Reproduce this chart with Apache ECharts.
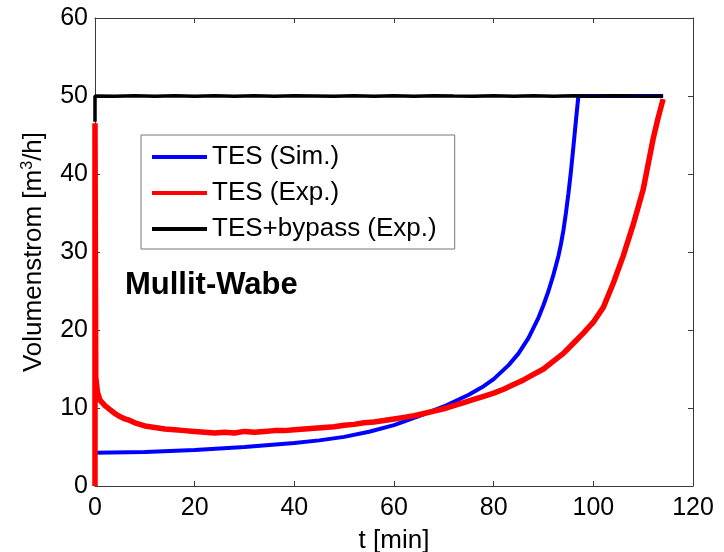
<!DOCTYPE html>
<html>
<head>
<meta charset="utf-8">
<script src="https://cdn.jsdelivr.net/npm/echarts@6/dist/echarts.min.js"></script>
<style>html,body{margin:0;padding:0;background:#fff}#c{width:724px;height:552px}</style>
</head>
<body>
<div id="c"></div>
<script>
// ---- data ----
const xTicks = [0, 20, 40, 60, 80, 100, 120];
const yTicks = [0, 10, 20, 30, 40, 50, 60];
const seriesNames = ['TES (Sim.)', 'TES (Exp.)', 'TES+bypass (Exp.)'];

const simT = [0, 10, 20, 30, 40, 45, 50, 55, 60, 65, 70, 75, 78, 80, 83, 85, 87, 89, 90, 91, 92, 93, 93.5, 94, 94.5, 95, 95.5, 96, 96.5, 97, 114];
const simV = [4.25, 4.35, 4.6, 5.0, 5.5, 5.85, 6.3, 6.95, 7.8, 8.95, 10.2, 11.7, 12.8, 13.7, 15.5, 17.0, 19.0, 21.6, 23.2, 25.0, 27.1, 29.5, 31.0, 32.8, 35.0, 37.5, 40.3, 43.5, 46.8, 50.0, 50.0];

const expT = [0, 0, 0.15, 0.5, 1, 2, 3, 4, 5, 6, 7, 8, 9, 10, 12, 14, 16, 18, 20, 22, 24, 26, 28, 30, 32, 34, 36, 38, 40, 42, 44, 46, 48, 50, 52, 54, 56, 58, 60, 62, 64, 66, 68, 70, 72, 74, 76, 78, 80, 82, 84, 86, 88, 90, 92, 94, 96, 98, 100, 102, 104, 106, 108, 110, 112, 113, 114];
const expV = [0, 46.5, 14, 12, 11, 10.3, 9.8, 9.3, 8.9, 8.6, 8.4, 8.1, 7.9, 7.7, 7.5, 7.3, 7.2, 7.1, 7.0, 6.9, 6.8, 6.9, 6.8, 7.0, 6.9, 7.0, 7.1, 7.1, 7.2, 7.3, 7.4, 7.5, 7.6, 7.8, 7.9, 8.1, 8.2, 8.4, 8.6, 8.8, 9.0, 9.3, 9.6, 9.9, 10.3, 10.7, 11.1, 11.5, 11.9, 12.4, 13.0, 13.6, 14.3, 15.0, 16.0, 17.0, 18.3, 19.6, 21.0, 22.9, 26.0, 29.5, 33.5, 38.0, 44.5, 47.2, 49.6];

const bypT = [0, 0, 4, 8, 12, 16, 20, 24, 28, 32, 36, 40, 44, 48, 52, 56, 60, 64, 68, 72, 76, 80, 84, 88, 92, 96, 100, 104, 108, 112, 114];
const bypV = [46.7, 50.0, 49.97, 50.03, 49.98, 50.02, 49.97, 50.03, 49.98, 50.02, 49.97, 50.03, 50.0, 49.97, 50.03, 49.98, 50.02, 49.97, 50.03, 50.0, 49.98, 50.02, 49.97, 50.03, 49.98, 50.02, 49.97, 50.03, 50.0, 49.98, 50.0];

const annotation = 'Mullit-Wabe';

const zip = (a, b) => a.map((v, i) => [v, b[i]]);
const FONT = "'Liberation Sans', Arial, sans-serif";
const axisCol = '#3a3a3a';

const chart = echarts.init(document.getElementById('c'), null, {renderer: 'canvas'});
const baseX = {
  type: 'value', min: 0, max: 120, interval: 20,
  axisLine: {show: true, onZero: false, lineStyle: {color: axisCol, width: 1}},
  axisTick: {show: true, inside: true, length: 5, lineStyle: {color: axisCol}},
  splitLine: {show: false}
};
const baseY = {
  type: 'value', min: 0, max: 60, interval: 10,
  axisLine: {show: true, onZero: false, lineStyle: {color: axisCol, width: 1}},
  axisTick: {show: true, inside: true, length: 5, lineStyle: {color: axisCol}},
  splitLine: {show: false}
};
chart.setOption({
  animation: false,
  backgroundColor: '#fff',
  grid: {left: 95, right: 31, top: 18, bottom: 66, containLabel: false, outerBoundsMode: 'none'},
  xAxis: [
    Object.assign({}, baseX, {
      position: 'bottom',
      axisLabel: {show: true, fontFamily: FONT, fontSize: 25, color: '#000', margin: 10,
        formatter: v => xTicks.includes(v) ? String(v) : ''},
      name: 't [min]', nameLocation: 'middle', nameGap: 36,
      nameTextStyle: {fontFamily: FONT, fontSize: 26, color: '#000', lineHeight: 30}
    }),
    Object.assign({}, baseX, {position: 'top', axisLabel: {show: false}})
  ],
  yAxis: [
    Object.assign({}, baseY, {
      position: 'left',
      axisLabel: {show: true, fontFamily: FONT, fontSize: 25, color: '#000', margin: 7,
        formatter: v => yTicks.includes(v) ? String(v) : ''},
      name: 'Volumenstrom [m{sup|3}/h]', nameLocation: 'middle', nameRotate: 90, nameGap: 40,
      nameTextStyle: {fontFamily: FONT, fontSize: 26, color: '#000', lineHeight: 30,
        rich: {sup: {fontFamily: FONT, fontSize: 16, lineHeight: 16, verticalAlign: 'top', color: '#000'}}}
    }),
    Object.assign({}, baseY, {position: 'right', axisLabel: {show: false}})
  ],
  legend: {
    show: true, orient: 'vertical', left: 141, top: 135,
    data: seriesNames,
    icon: 'rect', itemWidth: 55, itemHeight: 4, itemGap: 0,
    padding: [4, 18, 2, 11],
    backgroundColor: '#fff', borderColor: '#777', borderWidth: 1, borderRadius: 0,
    textStyle: {fontFamily: FONT, fontSize: 26, color: '#000', lineHeight: 24, padding: [12, 0, 0, 0]},
    selectedMode: false
  },
  graphic: [{
    type: 'text', x: 125, y: 285, z: 100,
    style: {text: annotation, font: "bold 31px 'Liberation Sans', Arial, sans-serif", fill: '#000', verticalAlign: 'middle'}
  }],
  series: [
    {name: seriesNames[0], type: 'line', data: zip(simT, simV), showSymbol: false, symbol: 'none',
      smooth: false, lineStyle: {color: '#0000ff', width: 4}, itemStyle: {color: '#0000ff'}, z: 2},
    {name: seriesNames[1], type: 'line', data: zip(expT, expV), showSymbol: false, symbol: 'none',
      lineStyle: {color: '#ff0000', width: 5.5}, itemStyle: {color: '#ff0000'}, z: 3},
    {name: seriesNames[2], type: 'line', data: zip(bypT, bypV), showSymbol: false, symbol: 'none',
      lineStyle: {color: '#000000', width: 3.5}, itemStyle: {color: '#000000'}, z: 4}
  ]
});
</script>
</body>
</html>
